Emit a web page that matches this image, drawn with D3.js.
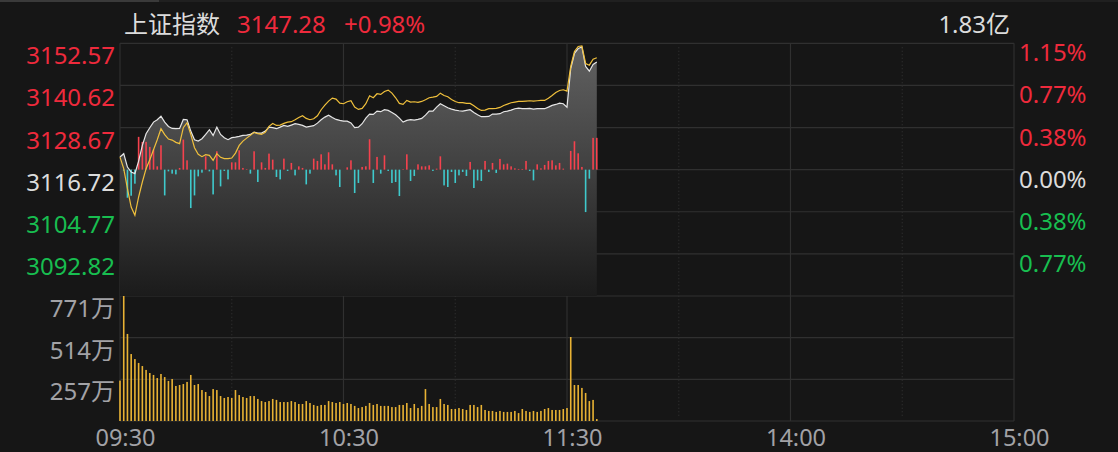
<!DOCTYPE html>
<html>
<head>
<meta charset="utf-8">
<script src="https://cdn.jsdelivr.net/npm/d3@7"></script>
<style>
  html, body { margin: 0; padding: 0; background: #161616; }
  svg { display: block; }
  text { font-family: "Noto Sans", "Noto Sans CJK SC", sans-serif; }
</style>
</head>
<body>
<svg></svg>
<script>
"use strict";

// header
const title = "上证指数";
const lastPrice = "3147.28";
const change = "+0.98%";
const turnover = "1.83亿";

const prevClose = 3116.72;

// one value per minute, 09:30 .. 13:08
const price = [
  3120.29, 3121.25, 3117.46, 3116.04, 3115.59, 3119.16, 3123.61, 3126.92, 3128.62, 3130.21,
  3130.89, 3131.91, 3130.21, 3128.99, 3128.42, 3128.34, 3128.42, 3130.97, 3130.89, 3127.66,
  3125.22, 3124.82, 3125.50, 3126.72, 3128.05, 3126.44, 3128.79, 3126.72, 3125.79, 3125.22,
  3125.79, 3125.96, 3126.16, 3126.44, 3126.52, 3126.72, 3127.37, 3127.09, 3127.09, 3127.66,
  3128.79, 3128.62, 3128.34, 3128.79, 3129.27, 3128.99, 3129.36, 3129.75, 3129.56, 3129.27,
  3128.79, 3128.99, 3129.19, 3129.92, 3130.89, 3131.63, 3132.19, 3131.54, 3130.97, 3130.69,
  3130.49, 3130.49, 3129.98, 3128.62, 3128.79, 3129.75, 3131.34, 3132.48, 3132.39, 3133.33,
  3133.16, 3133.72, 3133.52, 3132.96, 3132.31, 3131.34, 3130.21, 3130.69, 3130.89, 3130.77,
  3130.97, 3131.26, 3132.19, 3133.33, 3133.33, 3134.46, 3135.42, 3134.86, 3134.29, 3133.89,
  3133.61, 3133.44, 3133.33, 3133.52, 3133.72, 3132.96, 3132.31, 3131.74, 3131.74, 3131.82,
  3132.48, 3132.48, 3132.59, 3133.16, 3133.33, 3133.61, 3134.01, 3134.18, 3134.01, 3134.01,
  3134.09, 3133.89, 3134.01, 3134.01, 3134.01, 3134.46, 3134.94, 3135.22, 3135.59, 3135.42,
  3134.46, 3145.42, 3149.68, 3151.09, 3151.52, 3145.99, 3144.66, 3146.56, 3147.28
];

const avgPrice = [
  3120.29, 3117.00, 3111.34, 3106.12, 3103.77, 3108.96, 3113.21, 3117.00, 3119.55, 3122.39,
  3125.22, 3128.34, 3126.64, 3125.39, 3125.11, 3124.46, 3124.09, 3128.62, 3130.04, 3126.72,
  3122.95, 3121.06, 3120.40, 3120.97, 3120.77, 3119.36, 3121.25, 3120.21, 3119.84, 3119.84,
  3120.01, 3121.42, 3123.61, 3124.82, 3125.67, 3126.44, 3127.29, 3126.92, 3126.72, 3127.29,
  3128.99, 3129.84, 3129.27, 3129.36, 3129.84, 3130.21, 3130.32, 3130.89, 3131.54, 3132.02,
  3131.26, 3130.89, 3131.17, 3132.02, 3133.72, 3135.03, 3136.16, 3137.01, 3136.73, 3135.59,
  3135.42, 3135.99, 3136.27, 3134.46, 3133.81, 3134.09, 3135.42, 3137.69, 3137.12, 3138.26,
  3138.06, 3138.91, 3139.28, 3138.43, 3137.12, 3135.51, 3135.22, 3136.36, 3135.88, 3135.99,
  3135.79, 3136.07, 3136.56, 3137.12, 3137.29, 3137.49, 3138.43, 3137.77, 3137.41, 3136.64,
  3136.07, 3135.71, 3135.71, 3135.51, 3135.51, 3134.86, 3134.09, 3133.52, 3133.61, 3134.01,
  3134.01, 3134.09, 3134.37, 3134.94, 3135.31, 3135.71, 3135.88, 3136.07, 3136.07, 3136.16,
  3136.27, 3136.16, 3136.27, 3136.36, 3136.36, 3137.01, 3137.77, 3138.62, 3139.19, 3139.39,
  3138.99, 3145.99, 3150.24, 3151.66, 3151.80, 3146.84, 3146.36, 3148.06, 3148.46
];

// buy / sell strength bars
const flow = [
  0, -1, -28, -26, -14, 32.7, 27.7, 27.7, 22.7, 20,
  3.3, 24.3, -25.7, -1.7, -4, -4.7, 1.7, 30, 9.3, -38.3,
  -25.7, -6.7, -3, 13.3, -1.7, -24.7, 18.3, -16.7, -1.3, -9.7,
  7.3, 7.3, 19.3, 1.7, 0.5, -4, 18.3, -12.3, 7.3, 1.7,
  16, 10, -7.3, -9.7, 11, -1.3, 6.7, -5.7, 3.3, 1.7,
  -14.7, -4, 11, 8.7, 15.3, 5.3, 17.3, 5.3, -5.7, -17.3,
  0, 2.3, 9.3, -23.3, -13.3, 2.7, 3.3, 30.3, -13.3, 12.7,
  -4, 14.3, -1.3, -13.3, -12.3, -26.3, 0.5, 15.3, -11.3, -6.3,
  5.3, 3.3, 3.3, 4.3, -1.3, 1, 13.3, -15.7, -17.3, -2.3,
  -13.3, -5.7, -2.3, -6.3, 7.7, -18.3, -10.7, -11.3, 8.7, -2.3,
  6.7, -3.3, 10.7, 5.3, 6, 3.3, 1.3, 0.7, 0.7, 8.7,
  -1.3, -10.7, 5.3, 1.3, 4.7, 8.7, 9.3, 4.3, 6.7, 1,
  0, 18.7, 28.3, 16.3, 2.7, -42.3, -9, 31.7, 31.7
];

// volume, 万
const volume = [
  249, 771, 537, 413, 382, 358, 339, 315, 296, 284,
  265, 290, 271, 247, 259, 216, 222, 228, 241, 284,
  222, 228, 191, 179, 154, 197, 191, 154, 142, 148,
  142, 191, 160, 148, 142, 154, 154, 136, 123, 117,
  123, 136, 130, 117, 117, 117, 123, 117, 105, 105,
  123, 111, 99, 93, 99, 99, 123, 117, 111, 117,
  105, 111, 105, 93, 80, 86, 93, 111, 99, 105,
  93, 93, 93, 86, 86, 99, 99, 111, 80, 105,
  80, 93, 197, 105, 86, 86, 136, 105, 99, 74,
  74, 80, 74, 68, 99, 99, 86, 99, 68, 62,
  62, 56, 62, 56, 56, 56, 62, 49, 74, 62,
  56, 62, 56, 62, 74, 80, 68, 68, 68, 74,
  80, 518, 222, 222, 204, 173, 123, 130, 12
];

const priceTicks = [3152.57, 3140.62, 3128.67, 3116.72, 3104.77, 3092.82];
const priceBottomValue = 3080.87;
const pctTicks = ["1.15%", "0.77%", "0.38%", "0.00%", "0.38%", "0.77%"];
const volumeTicks = [771, 514, 257];
const timeTicks = [0, 60, 120, 180, 240];
const timeLabels = ["09:30", "10:30", "11:30", "14:00", "15:00"];
const hourLines = [60, 120, 180];
const halfHourLines = [30, 90, 150, 210];

const width = 1118;
const height = 452;
const left = 120;
const right = 1014;
const priceTop = 43.3;
const priceBottom = 296;
const volTop = 296;
const volBottom = 421;

const red = "#ee2a3c";
const green = "#18be50";
const white = "#dcdcdc";
const gray = "#a2a2a6";
const gridColor = "#303030";

let xScale;
let priceScale;
let flowScale;
let volumeScale;

const svg = d3.select("svg");

const drawCanvas = () => {
  svg.attr("width", width).attr("height", height);
  svg.append("rect").attr("width", width).attr("height", height).attr("fill", "#161616");
  svg.append("rect").attr("width", 159).attr("height", 2).attr("fill", "#3a3a3a");
  svg.append("rect").attr("x", 159).attr("width", width - 159).attr("height", 2).attr("fill", "#202020");
};

const generateScales = () => {
  xScale = d3.scaleLinear().domain([0, 240]).range([left, right]);
  priceScale = d3
    .scaleLinear()
    .domain([priceBottomValue, priceTicks[0]])
    .range([priceBottom, priceTop]);
  flowScale = d3.scaleLinear().domain([-126, 126]).range([priceBottom, priceTop]);
  volumeScale = d3.scaleLinear().domain([0, 771]).range([volBottom, volTop]);
};

const drawGrid = () => {
  const g = svg.append("g").attr("stroke", gridColor).attr("stroke-width", 1.2);

  const hLines = priceTicks
    .map((t) => priceScale(t))
    .concat(volumeTicks.map((t) => volumeScale(t)))
    .concat([volumeScale(0)]);

  g.selectAll(".h")
    .data(hLines)
    .enter()
    .append("line")
    .attr("x1", left)
    .attr("x2", right)
    .attr("y1", (d) => d)
    .attr("y2", (d) => d);

  g.selectAll(".v")
    .data([0, 240].concat(hourLines))
    .enter()
    .append("line")
    .attr("x1", (d) => xScale(d))
    .attr("x2", (d) => xScale(d))
    .attr("y1", priceTop)
    .attr("y2", volBottom);

  g.selectAll(".d")
    .data(halfHourLines)
    .enter()
    .append("line")
    .attr("x1", (d) => xScale(d))
    .attr("x2", (d) => xScale(d))
    .attr("y1", priceTop + 4)
    .attr("y2", volBottom - 4)
    .attr("stroke-dasharray", "1,2.5");
};

const drawPrice = () => {
  const grad = svg
    .append("defs")
    .append("linearGradient")
    .attr("id", "fill")
    .attr("gradientUnits", "userSpaceOnUse")
    .attr("x1", 0)
    .attr("x2", 0)
    .attr("y1", priceTop)
    .attr("y2", priceBottom);
  grad.append("stop").attr("offset", 0).attr("stop-color", "#626262");
  grad.append("stop").attr("offset", 0.5).attr("stop-color", "#404040");
  grad.append("stop").attr("offset", 1).attr("stop-color", "#1b1b1b");

  const area = d3
    .area()
    .x((d, i) => xScale(i))
    .y0(priceBottom)
    .y1((d) => priceScale(d));

  svg.append("path").datum(price).attr("d", area).attr("fill", "url(#fill)");

  svg
    .selectAll(".flow")
    .data(flow)
    .enter()
    .append("rect")
    .attr("x", (d, i) => xScale(i) - 0.8)
    .attr("width", 1.6)
    .attr("y", (d) => Math.min(flowScale(d), flowScale(0)))
    .attr("height", (d) => Math.abs(flowScale(d) - flowScale(0)))
    .attr("fill", (d) => (d >= 0 ? "#f5424e" : "#3fc9cc"));

  const line = d3
    .line()
    .x((d, i) => xScale(i))
    .y((d) => priceScale(d));

  svg
    .append("path")
    .datum(price)
    .attr("d", line)
    .attr("fill", "none")
    .attr("stroke", "#e6e6e6")
    .attr("stroke-width", 1.2);

  svg
    .append("path")
    .datum(avgPrice)
    .attr("d", line)
    .attr("fill", "none")
    .attr("stroke", "#f0c03c")
    .attr("stroke-width", 1.2);
};

const drawVolume = () => {
  svg
    .selectAll(".vol")
    .data(volume)
    .enter()
    .append("rect")
    .attr("x", (d, i) => xScale(i) - 0.8)
    .attr("width", 1.6)
    .attr("y", (d) => volumeScale(d))
    .attr("height", (d) => volumeScale(0) - volumeScale(d))
    .attr("fill", "#e8b234");
};

const drawLabels = () => {
  const zero = priceTicks.indexOf(prevClose);
  const colorOf = (i) => (i < zero ? red : i === zero ? white : green);

  svg
    .selectAll(".pl")
    .data(priceTicks)
    .enter()
    .append("text")
    .attr("x", 115)
    .attr("y", (d) => priceScale(d) + 21)
    .attr("text-anchor", "end")
    .attr("font-size", 24)
    .attr("fill", (d, i) => colorOf(i))
    .text((d) => d.toFixed(2));

  svg
    .selectAll(".pr")
    .data(pctTicks)
    .enter()
    .append("text")
    .attr("x", 1019)
    .attr("y", (d, i) => priceScale(priceTicks[i]) + 18)
    .attr("font-size", 24)
    .attr("fill", (d, i) => colorOf(i))
    .text((d) => d);

  svg
    .selectAll(".vl")
    .data(volumeTicks)
    .enter()
    .append("text")
    .attr("x", 115)
    .attr("y", (d) => volumeScale(d) + 21)
    .attr("text-anchor", "end")
    .attr("font-size", 24)
    .attr("fill", gray)
    .text((d) => d + "万");

  const xAxis = d3
    .axisBottom(xScale)
    .tickValues(timeTicks)
    .tickSize(0)
    .tickPadding(0)
    .tickFormat((d, i) => timeLabels[i]);

  const ax = svg
    .append("g")
    .attr("transform", `translate(5,${volBottom})`)
    .call(xAxis);
  ax.select(".domain").remove();
  ax.selectAll("text")
    .attr("y", 24.5)
    .attr("dy", 0)
    .attr("font-size", 23.5)
    .attr("font-family", "Noto Sans")
    .attr("fill", gray);

  const header = svg.append("g").attr("font-size", 24);
  header.append("text").attr("x", 124).attr("y", 33).attr("fill", white).text(title);
  header.append("text").attr("x", 237).attr("y", 33).attr("fill", red).text(lastPrice);
  header.append("text").attr("x", 344).attr("y", 33).attr("fill", red).text(change);
  header
    .append("text")
    .attr("x", 1010)
    .attr("y", 33)
    .attr("text-anchor", "end")
    .attr("fill", white)
    .text(turnover);
};

drawCanvas();
generateScales();
drawGrid();
drawPrice();
drawVolume();
drawLabels();
</script>
</body>
</html>
